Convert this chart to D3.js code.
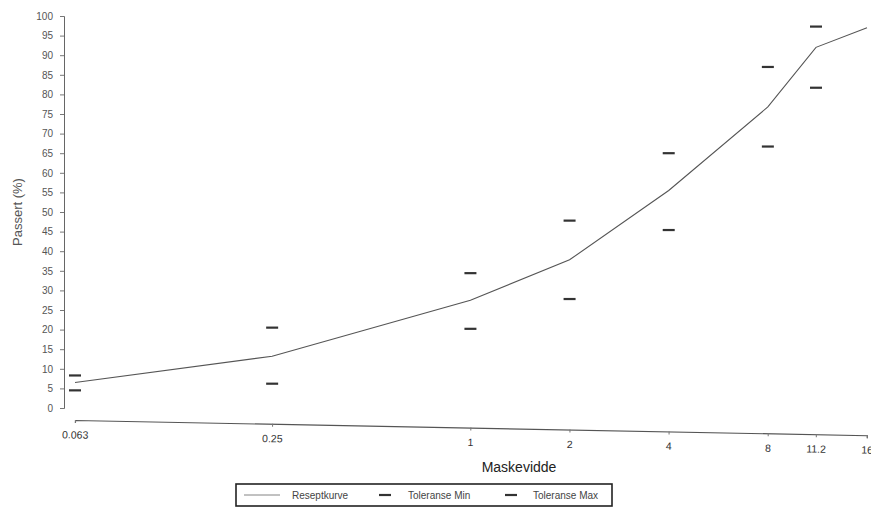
<!DOCTYPE html>
<html>
<head>
<meta charset="utf-8">
<script src="https://cdn.jsdelivr.net/npm/d3@7/dist/d3.min.js"></script>
<style>
  html, body { margin: 0; padding: 0; background: #fff; }
  svg { display: block; font-family: "Liberation Sans", Arial, sans-serif; }
</style>
</head>
<body>
<svg id="chart" width="871" height="510"></svg>
<script>
// Sieve sizes (mm) and passing percentages
const sieves = [0.063, 0.25, 1, 2, 4, 8, 11.2, 16];
const sieveLabels = ["0.063", "0.25", "1", "2", "4", "8", "11.2", "16"];
const reseptkurve = [6.5, 13.2, 27.5, 37.8, 55.5, 76.8, 92, 97];
const tolMinSieves = [0.063, 0.25, 1, 2, 4, 8, 11.2];
const toleranseMin = [4.5, 6.2, 20.2, 27.8, 45.4, 66.7, 81.7];
const tolMaxSieves = [0.063, 0.25, 1, 2, 4, 8, 11.2];
const toleranseMax = [8.3, 20.5, 34.4, 47.8, 65, 87, 97.3];
const yTicks = d3.range(0, 101, 5);

const svg = d3.select("#chart");
const x = d3.scaleLog().domain([0.063, 16]).range([75, 867]);
const y = d3.scaleLinear().domain([0, 100]).range([408, 16]);
const axisX = 64;

// Y axis
const yAxis = svg.append("g")
  .attr("transform", `translate(${axisX},0)`)
  .call(d3.axisLeft(y).tickValues(yTicks).tickSize(4).tickPadding(7));
yAxis.select(".domain").attr("stroke", "#666").attr("stroke-width", 1);
yAxis.selectAll(".tick line").attr("stroke", "#777");
yAxis.selectAll(".tick text").attr("fill", "#555").attr("font-size", 10)
  .attr("font-family", "Liberation Sans, Arial, sans-serif");

// X axis (slightly skewed baseline)
const xAxisG = svg.append("g")
  .attr("transform", `translate(0,420) rotate(1.1, ${x(0.063)}, 0)`)
  .call(d3.axisBottom(x).tickValues(sieves)
    .tickFormat((d, i) => sieveLabels[i]).tickSize(3).tickPadding(8));
xAxisG.select(".domain").attr("stroke", "#555").attr("stroke-width", 1.2);
xAxisG.selectAll(".tick line").attr("stroke", "#777");
xAxisG.selectAll(".tick text").attr("fill", "#333").attr("font-size", 10.5)
  .attr("font-family", "Liberation Sans, Arial, sans-serif");

// Axis titles
svg.append("text")
  .attr("transform", `translate(22,${y(50)}) rotate(-90)`)
  .attr("text-anchor", "middle")
  .attr("fill", "#555").attr("font-size", 13)
  .text("Passert (%)");
svg.append("text")
  .attr("x", 519).attr("y", 472)
  .attr("text-anchor", "middle")
  .attr("fill", "#222").attr("font-size", 14)
  .text("Maskevidde");

// Recipe curve
const line = d3.line().x((d, i) => x(sieves[i])).y(d => y(d));
svg.append("path")
  .datum(reseptkurve)
  .attr("d", line)
  .attr("fill", "none")
  .attr("stroke", "#555")
  .attr("stroke-width", 1.1);

// Tolerance markers
const dashW = 12;
svg.append("g").selectAll("line")
  .data(toleranseMin)
  .join("line")
  .attr("x1", (d, i) => x(tolMinSieves[i]) - dashW / 2)
  .attr("x2", (d, i) => x(tolMinSieves[i]) + dashW / 2)
  .attr("y1", d => y(d)).attr("y2", d => y(d))
  .attr("stroke", "#333").attr("stroke-width", 2.2);
svg.append("g").selectAll("line")
  .data(toleranseMax)
  .join("line")
  .attr("x1", (d, i) => x(tolMaxSieves[i]) - dashW / 2)
  .attr("x2", (d, i) => x(tolMaxSieves[i]) + dashW / 2)
  .attr("y1", d => y(d)).attr("y2", d => y(d))
  .attr("stroke", "#333").attr("stroke-width", 2.2);

// Legend
const legend = svg.append("g").attr("transform", "translate(236,484)");
legend.append("rect")
  .attr("width", 376).attr("height", 22)
  .attr("fill", "#fff").attr("stroke", "#222").attr("stroke-width", 1.6);
const items = [
  { label: "Reseptkurve", x0: 8, x1: 44, tx: 56, w: 0.8, c: "#666" },
  { label: "Toleranse Min", x0: 143, x1: 155, tx: 172, w: 2.2, c: "#333" },
  { label: "Toleranse Max", x0: 269, x1: 281, tx: 297, w: 2.2, c: "#333" }
];
items.forEach(it => {
  legend.append("line")
    .attr("x1", it.x0).attr("x2", it.x1).attr("y1", 11).attr("y2", 11)
    .attr("stroke", it.c).attr("stroke-width", it.w);
  legend.append("text")
    .attr("x", it.tx).attr("y", 15)
    .attr("fill", "#444").attr("font-size", 10)
    .text(it.label);
});
</script>
</body>
</html>
